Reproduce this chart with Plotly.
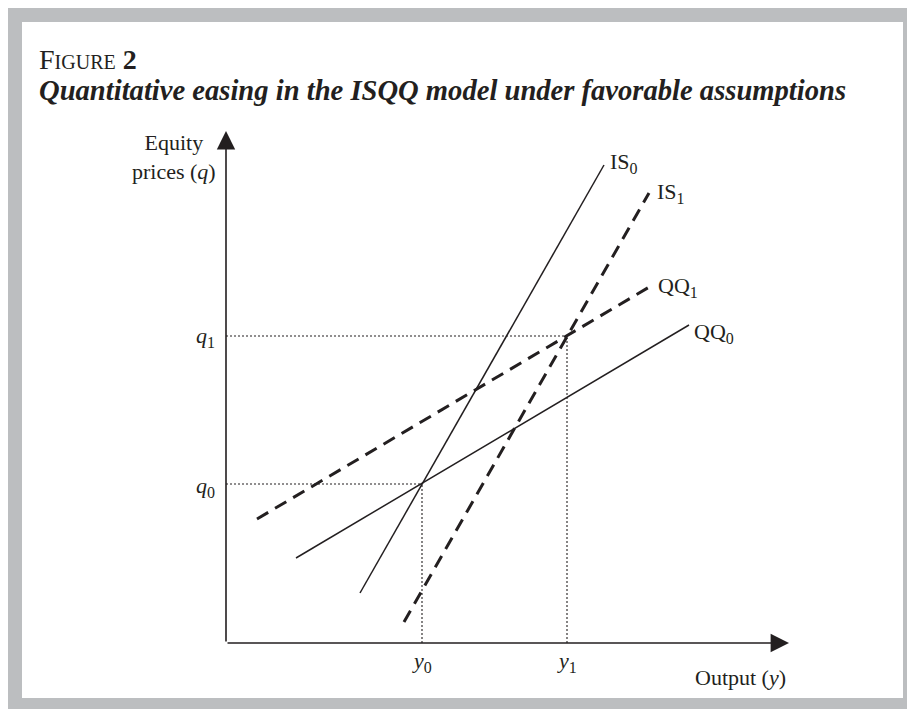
import plotly.graph_objects as go

# ---- data (model units) ----
y0, q0 = 19.6, 15.9
y1, q1 = 34.1, 30.7
IS0_x = [13.4, 37.8]; IS0_y = [5.0, 47.8]
IS1_x = [17.8, 42.3]; IS1_y = [2.1, 45.0]
QQ0_x = [7.0, 46.3]; QQ0_y = [8.5, 31.8]
QQ1_x = [3.1, 42.5]; QQ1_y = [12.4, 35.7]
x_axis_end = 56.3
y_axis_end = 51.2

INK = "#231f20"
GRAY = "#bcbec0"
FONT = "Liberation Serif"

W, H = 907, 701  # page body adds an 8px margin

fig = go.Figure()

def line(xs, ys, width, dash):
    fig.add_trace(go.Scatter(x=xs, y=ys, mode="lines",
                             line=dict(color=INK, width=width, dash=dash),
                             hoverinfo="skip", showlegend=False))

# guide dotted lines
line([0, y0], [q0, q0], 1.1, "2px,2px")
line([y0, y0], [0, q0], 1.1, "2px,2px")
line([0, y1], [q1, q1], 1.1, "2px,2px")
line([y1, y1], [0, q1], 1.1, "2px,2px")

# curves
line(IS0_x, IS0_y, 1.5, "solid")
line(QQ0_x, QQ0_y, 1.5, "solid")
line(IS1_x, IS1_y, 3, "13px,8px")
line(QQ1_x, QQ1_y, 3, "13px,8px")

ann = []
# axes with arrows
for tip in [(0, y_axis_end), (x_axis_end, 0)]:
    ann.append(dict(x=tip[0], y=tip[1], ax=0, ay=0, xref="x", yref="y", axref="x", ayref="y",
                    text="", showarrow=True, arrowhead=2, arrowsize=2.3, arrowwidth=1.6,
                    arrowcolor=INK, standoff=0))

def sub(s):
    return "<sub><span style='font-size:16px'>" + s + "</span></sub>"

def label(x, y, text, xanchor="left", size=22):
    ann.append(dict(x=x, y=y, xref="x", yref="y", text=text, showarrow=False,
                    xanchor=xanchor, yanchor="middle",
                    font=dict(family=FONT, size=size, color=INK)))

label(38.2, 48.0, "IS" + sub("0"))
label(42.9, 45.0, "IS" + sub("1"))
label(43.0, 35.6, "QQ" + sub("1"))
label(46.6, 31.0, "QQ" + sub("0"))
label(-0.9, 30.6, "<i>q</i>" + sub("1"), "right")
label(-0.9, 15.6, "<i>q</i>" + sub("0"), "right")
label(y0, -1.9, "<i>y</i>" + sub("0"), "center")
label(y1, -1.9, "<i>y</i>" + sub("1"), "center")
label(56.2, -3.4, "Output (<i>y</i>)", "right")
ann.append(dict(x=-5.2, y=48.6, xref="x", yref="y",
                text="Equity<br>prices (<i>q</i>)", showarrow=False,
                xanchor="center", yanchor="middle", align="center",
                font=dict(family=FONT, size=22, color=INK)))

# titles (positions in page pixels minus body margin)
ann.append(dict(x=(37-8)/W, y=1-(42-8)/H, xref="paper", yref="paper", xanchor="left", yanchor="top",
                text="F<span style='font-size:20px'>IGURE</span> <b>2</b>", showarrow=False,
                font=dict(family=FONT, size=28, color=INK)))
ann.append(dict(x=(37-8)/W, y=1-(73-8)/H, xref="paper", yref="paper", xanchor="left", yanchor="top",
                text="<b><i>Quantitative easing in the ISQQ model under favorable assumptions</i></b>",
                showarrow=False, font=dict(family=FONT, size=28.6, color=INK)))

shapes = [
    dict(type="rect", xref="paper", yref="paper", x0=(22-8)/W, x1=(903-8)/W,
         y0=1-(698-8)/H, y1=1-(22-8)/H,
         fillcolor="white", line=dict(width=0), layer="below"),
]

fig.update_layout(
    width=W, height=H, margin=dict(l=0, r=0, t=0, b=0),
    paper_bgcolor=GRAY, plot_bgcolor="rgba(0,0,0,0)",
    xaxis=dict(range=[-21.8, 68.9], visible=False, fixedrange=True),
    yaxis=dict(range=[-6.6, 63.5], visible=False, fixedrange=True),
    annotations=ann, shapes=shapes, showlegend=False,
)

fig.write_html("out.html")
